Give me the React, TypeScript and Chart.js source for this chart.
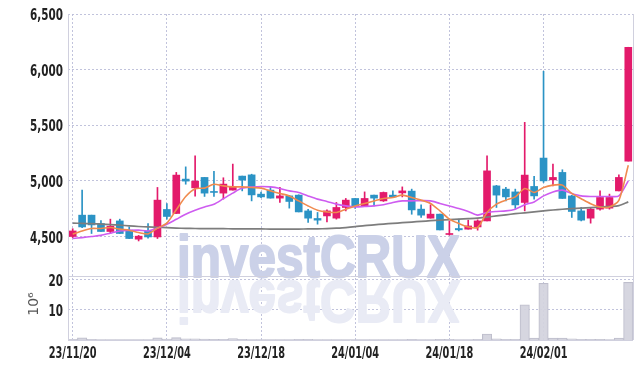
import React, { useEffect, useRef } from 'react';
import { Chart, registerables } from 'chart.js';
Chart.register(...registerables);

const dates = [
  '23/11/20', '23/11/21', '23/11/22', '23/11/23', '23/11/24', '23/11/27', '23/11/28', '23/11/29', '23/11/30', '23/12/01',
  '23/12/04', '23/12/05', '23/12/06', '23/12/07', '23/12/08', '23/12/11', '23/12/12', '23/12/13', '23/12/14', '23/12/15',
  '23/12/18', '23/12/19', '23/12/20', '23/12/21', '23/12/22', '23/12/26', '23/12/27', '23/12/28', '24/01/02', '24/01/03',
  '24/01/04', '24/01/05', '24/01/08', '24/01/09', '24/01/10', '24/01/11', '24/01/12', '24/01/15', '24/01/16', '24/01/17',
  '24/01/18', '24/01/19', '24/01/22', '24/01/23', '24/01/24', '24/01/25', '24/01/26', '24/01/29', '24/01/30', '24/01/31',
  '24/02/01', '24/02/02', '24/02/05', '24/02/06', '24/02/07', '24/02/08', '24/02/13', '24/02/14', '24/02/15', '24/02/16',
];

const opens = [
  4500, 4692, 4692, 4617, 4545, 4640, 4557, 4476, 4550, 4496,
  4743, 4707, 5016, 4937, 5031, 4905, 4890, 4917, 5043, 5054,
  4881, 4917, 4845, 4865, 4872, 4730, 4662, 4685, 4665, 4761,
  4842, 4775, 4872, 4820, 4872, 4892, 4908, 4746, 4665, 4701,
  4518, 4572, 4566, 4586, 4640, 4955, 4926, 4901, 4806, 4950,
  5205, 5009, 5076, 4865, 4730, 4665, 4746, 4755, 4910, 5178,
];
const highs = [
  4570, 4917, 4692, 4644, 4656, 4656, 4586, 4510, 4617, 4941,
  4797, 5076, 5126, 5225, 5031, 5085, 5028, 5151, 5043, 5060,
  4900, 4941, 4941, 4870, 4875, 4745, 4716, 4740, 4806, 4842,
  4842, 4901, 4872, 4900, 4910, 4946, 4926, 4785, 4785, 4701,
  4640, 4656, 4647, 4650, 5225, 4960, 4941, 4926, 5526, 5040,
  5985, 5151, 5100, 4870, 4761, 4761, 4910, 4881, 5054, 6201,
];
const lows = [
  4490, 4580, 4527, 4545, 4527, 4527, 4482, 4460, 4485, 4482,
  4656, 4707, 4970, 4863, 4860, 4860, 4836, 4917, 4910, 4820,
  4850, 4845, 4806, 4755, 4721, 4626, 4611, 4631, 4656, 4730,
  4752, 4770, 4775, 4815, 4856, 4856, 4700, 4671, 4665, 4559,
  4512, 4550, 4566, 4557, 4640, 4761, 4820, 4752, 4730, 4836,
  4986, 4955, 4842, 4671, 4640, 4620, 4737, 4746, 4910, 5178,
];
const closes = [
  4550, 4586, 4604, 4545, 4593, 4527, 4482, 4503, 4496, 4827,
  4680, 5052, 4998, 4998, 4890, 4896, 4971, 4946, 5007, 4874,
  4856, 4845, 4865, 4815, 4721, 4665, 4647, 4730, 4761, 4827,
  4770, 4842, 4845, 4896, 4856, 4910, 4739, 4692, 4701, 4559,
  4527, 4560, 4595, 4640, 5090, 4872, 4856, 4784, 5052, 4865,
  5000, 5031, 4842, 4725, 4647, 4746, 4851, 4851, 5031, 6201,
];
const ma5 = [
  4520, 4550, 4572, 4572, 4581, 4566, 4557, 4536, 4523, 4575,
  4620, 4740, 4860, 4930, 4935, 4970, 4955, 4946, 4946, 4940,
  4935, 4910, 4887, 4865, 4820, 4775, 4737, 4721, 4716, 4746,
  4775, 4797, 4820, 4842, 4851, 4872, 4851, 4827, 4797, 4730,
  4656, 4617, 4586, 4581, 4716, 4791, 4827, 4856, 4932, 4896,
  4941, 4962, 4962, 4887, 4840, 4795, 4765, 4765, 4825, 5140,
];
const ma20 = [
  4482, 4490, 4500, 4510, 4530, 4550, 4555, 4557, 4550, 4575,
  4610, 4655, 4700, 4735, 4765, 4790, 4840, 4890, 4935, 4945,
  4950, 4946, 4932, 4910, 4896, 4865, 4836, 4815, 4791, 4775,
  4766, 4770, 4775, 4785, 4806, 4820, 4820, 4822, 4820, 4797,
  4775, 4752, 4725, 4692, 4716, 4725, 4730, 4746, 4785, 4811,
  4865, 4901, 4917, 4887, 4865, 4860, 4860, 4860, 4865, 5000,
];
const ma60 = [
  4620, 4618, 4615, 4612, 4607, 4602, 4596, 4590, 4586, 4583,
  4580, 4576, 4573, 4572, 4571, 4570, 4570, 4569, 4569, 4568,
  4568, 4567, 4567, 4567, 4567, 4568, 4569, 4571, 4575, 4580,
  4588, 4598, 4605, 4612, 4618, 4624, 4630, 4636, 4642, 4648,
  4652, 4656, 4660, 4665, 4675, 4685, 4695, 4705, 4713, 4721,
  4730, 4738, 4745, 4750, 4755, 4760, 4765, 4770, 4778, 4811,
];
const volumes = [
  0.2, 0.7, 0.2, 0.15, 0.15, 0.15, 0.1, 0.1, 0.15, 0.7,
  0.3, 0.8, 0.4, 0.4, 0.3, 0.2, 0.2, 0.5, 0.2, 0.15,
  0.1, 0.1, 0.1, 0.15, 0.2, 0.2, 0.1, 0.1, 0.15, 0.15,
  0.1, 0.15, 0.1, 0.1, 0.1, 0.1, 0.2, 0.15, 0.1, 0.2,
  0.2, 0.1, 0.1, 0.2, 2.0, 0.4, 0.2, 0.2, 11.7, 0.6,
  18.9, 0.6, 0.6, 0.4, 0.2, 0.2, 0.2, 0.1, 0.6, 19.2,
];
const priceTicks = [4500, 5000, 5500, 6000, 6500];
const volumeTicks = [10, 20];
const xLabelEvery = 10;
const watermarkText = 'investCRUX';
const volumeUnit = '10⁶';

const UP = '#e31a6b';
const DOWN = '#2b93c5';
const GRID = 'rgba(190,192,218,0.95)';
const FRAME = 'rgb(208,208,222)';
const CLEAR = 'rgba(0,0,0,0)';
const LABEL_FONT = 'bold 16px "DejaVu Sans", sans-serif';
const XLABEL_FONT = 'bold 15px "DejaVu Sans", sans-serif';
const SQUEEZE = 0.65;

function drawSqueezed(ctx: any, text: string, x: number, y: number, align: string, font: string) {
  ctx.save();
  ctx.translate(x, y);
  ctx.scale(SQUEEZE, 1);
  ctx.font = font;
  ctx.textAlign = align;
  ctx.textBaseline = 'middle';
  ctx.fillStyle = '#222';
  ctx.fillText(text, 0, 0);
  ctx.restore();
}

const decorPlugin = {
  id: 'decor',
  beforeDatasetsDraw(chart: any) {
    const { ctx, chartArea } = chart;
    ctx.save();
    ctx.beginPath();
    ctx.rect(chartArea.left, chartArea.top, chartArea.right - chartArea.left, chartArea.bottom - chartArea.top);
    ctx.clip();
    ctx.font = 'bold 60px "Liberation Sans", Arial, sans-serif';
    const w = ctx.measureText(watermarkText).width;
    const sx = 283 / w;
    ctx.textBaseline = 'alphabetic';
    ctx.textAlign = 'left';
    ctx.lineJoin = 'round';
    ctx.save();
    ctx.translate(177, 277);
    ctx.scale(sx, 1);
    ctx.fillStyle = 'rgb(203,209,232)';
    ctx.strokeStyle = 'rgb(203,209,232)';
    ctx.lineWidth = 2;
    ctx.fillText(watermarkText, 0, 0);
    ctx.strokeText(watermarkText, 0, 0);
    ctx.restore();
    ctx.save();
    ctx.translate(177, 281);
    ctx.scale(sx, -1);
    ctx.fillStyle = 'rgb(233,235,245)';
    ctx.strokeStyle = 'rgb(233,235,245)';
    ctx.lineWidth = 2;
    ctx.fillText(watermarkText, 0, 0);
    ctx.strokeText(watermarkText, 0, 0);
    ctx.restore();
    ctx.restore();
  },
  afterDraw(chart: any) {
    const { ctx, chartArea } = chart;
    const sep = chart.scales.y.bottom;
    ctx.save();
    ctx.strokeStyle = FRAME;
    ctx.lineWidth = 1;
    ctx.beginPath();
    ctx.moveTo(Math.round(chartArea.left) + 0.5, chartArea.top);
    ctx.lineTo(Math.round(chartArea.left) + 0.5, chartArea.bottom);
    ctx.moveTo(Math.round(chartArea.right) + 0.5, chartArea.top);
    ctx.lineTo(Math.round(chartArea.right) + 0.5, chartArea.bottom);
    ctx.moveTo(chartArea.left, Math.round(sep) + 0.5);
    ctx.lineTo(chartArea.right, Math.round(sep) + 0.5);
    ctx.moveTo(chartArea.left, Math.round(chartArea.bottom) + 0.5);
    ctx.lineTo(chartArea.right, Math.round(chartArea.bottom) + 0.5);
    ctx.stroke();
    ctx.restore();

    const ys = chart.scales.y;
    priceTicks.forEach((v) => {
      drawSqueezed(ctx, v.toLocaleString('en-US'), 63, ys.getPixelForValue(v) + 2, 'right', LABEL_FONT);
    });
    const vs = chart.scales.yv;
    volumeTicks.forEach((v) => {
      drawSqueezed(ctx, String(v), 63, vs.getPixelForValue(v) + 2, 'right', LABEL_FONT);
    });
    const xs = chart.scales.x;
    dates.forEach((d, i) => {
      if (i % xLabelEvery === 0) drawSqueezed(ctx, d, xs.getPixelForValue(i), chartArea.bottom + 14, 'center', XLABEL_FONT);
    });

    ctx.save();
    ctx.translate(34, (vs.top + vs.bottom) / 2 - 4);
    ctx.rotate(-Math.PI / 2);
    ctx.fillStyle = '#555';
    ctx.font = '14px "DejaVu Sans", sans-serif';
    ctx.textAlign = 'center';
    ctx.textBaseline = 'middle';
    ctx.fillText(volumeUnit, 0, 0);
    ctx.restore();
  },
};

export default function App() {
  const ref = useRef<HTMLCanvasElement | null>(null);
  useEffect(() => {
    if (!ref.current) return;
    const candleColors = closes.map((c, i) => (c >= opens[i] ? UP : DOWN));
    const chart = new Chart(ref.current, {
      type: 'bar',
      data: {
        labels: dates,
        datasets: [
          {
            type: 'line', label: 'MA5', data: ma5, yAxisID: 'y', borderColor: 'rgb(240,138,78)',
            borderWidth: 1.6, pointRadius: 0, tension: 0.25, order: 0,
          } as any,
          {
            type: 'line', label: 'MA20', data: ma20, yAxisID: 'y', borderColor: 'rgb(206,92,240)',
            borderWidth: 1.6, pointRadius: 0, tension: 0.25, order: 1,
          } as any,
          {
            type: 'line', label: 'MA60', data: ma60, yAxisID: 'y', borderColor: 'rgb(125,125,125)',
            borderWidth: 1.7, pointRadius: 0, tension: 0.25, order: 2,
          } as any,
          {
            type: 'bar', label: 'body', data: opens.map((o, i) => [o, closes[i]]), yAxisID: 'y',
            backgroundColor: candleColors, barThickness: 7, grouped: false, order: 3, borderWidth: 0,
          } as any,
          {
            type: 'bar', label: 'wick', data: lows.map((l, i) => [l, highs[i]]), yAxisID: 'y',
            backgroundColor: candleColors, barThickness: 1, grouped: false, order: 4, borderWidth: 0,
          } as any,
          {
            type: 'bar', label: 'volume', data: volumes, yAxisID: 'yv',
            backgroundColor: 'rgba(212,212,222,0.95)', borderColor: 'rgba(190,190,204,1)', borderWidth: 1,
            barPercentage: 1, categoryPercentage: 1, grouped: false, order: 5,
          } as any,
        ],
      },
      options: {
        responsive: false,
        animation: false,
        devicePixelRatio: 1,
        layout: { padding: { top: 14, right: 9, left: 0, bottom: 0 } },
        plugins: { legend: { display: false }, tooltip: { enabled: false } },
        scales: {
          x: {
            type: 'category',
            offset: true,
            grid: {
              offset: false,
              drawTicks: false,
              color: (ctx: any) => (ctx.index % xLabelEvery === 0 ? GRID : CLEAR),
            },
            border: { display: false, dash: [2, 2] },
            ticks: {
              autoSkip: false, maxRotation: 0, minRotation: 0, padding: 8,
              color: CLEAR,
              font: { size: 12 },
              callback: (_v: any, i: number) => (i % xLabelEvery === 0 ? dates[i] : ''),
            },
            afterFit: (s: any) => { s.height = 30; },
          },
          yv: {
            type: 'linear', position: 'left', stack: 'v', stackWeight: 64,
            min: 0, max: 21.3,
            afterBuildTicks: (s: any) => { s.ticks = volumeTicks.map((v) => ({ value: v })); },
            grid: { drawTicks: false, color: GRID },
            border: { display: false, dash: [2, 2] },
            ticks: { padding: 6, color: CLEAR, font: { size: 12 } },
            afterFit: (s: any) => { s.width = 68; },
          },
          y: {
            type: 'linear', position: 'left', stack: 'v', stackWeight: 262,
            min: 4145, max: 6500,
            afterBuildTicks: (s: any) => { s.ticks = priceTicks.map((v) => ({ value: v })); },
            grid: { drawTicks: false, color: GRID },
            border: { display: false, dash: [2, 2] },
            ticks: {
              padding: 6, color: CLEAR, font: { size: 12 },
              callback: (v: any) => Number(v).toLocaleString('en-US'),
            },
            afterFit: (s: any) => { s.width = 68; },
          },
        },
      } as any,
      plugins: [decorPlugin],
    });
    return () => chart.destroy();
  }, []);
  return (
    <div style={{ position: 'absolute', left: 0, top: 0, width: 642, height: 370, background: '#fff' }}>
      <canvas ref={ref} width={642} height={370} style={{ display: 'block' }} />
    </div>
  );
}
